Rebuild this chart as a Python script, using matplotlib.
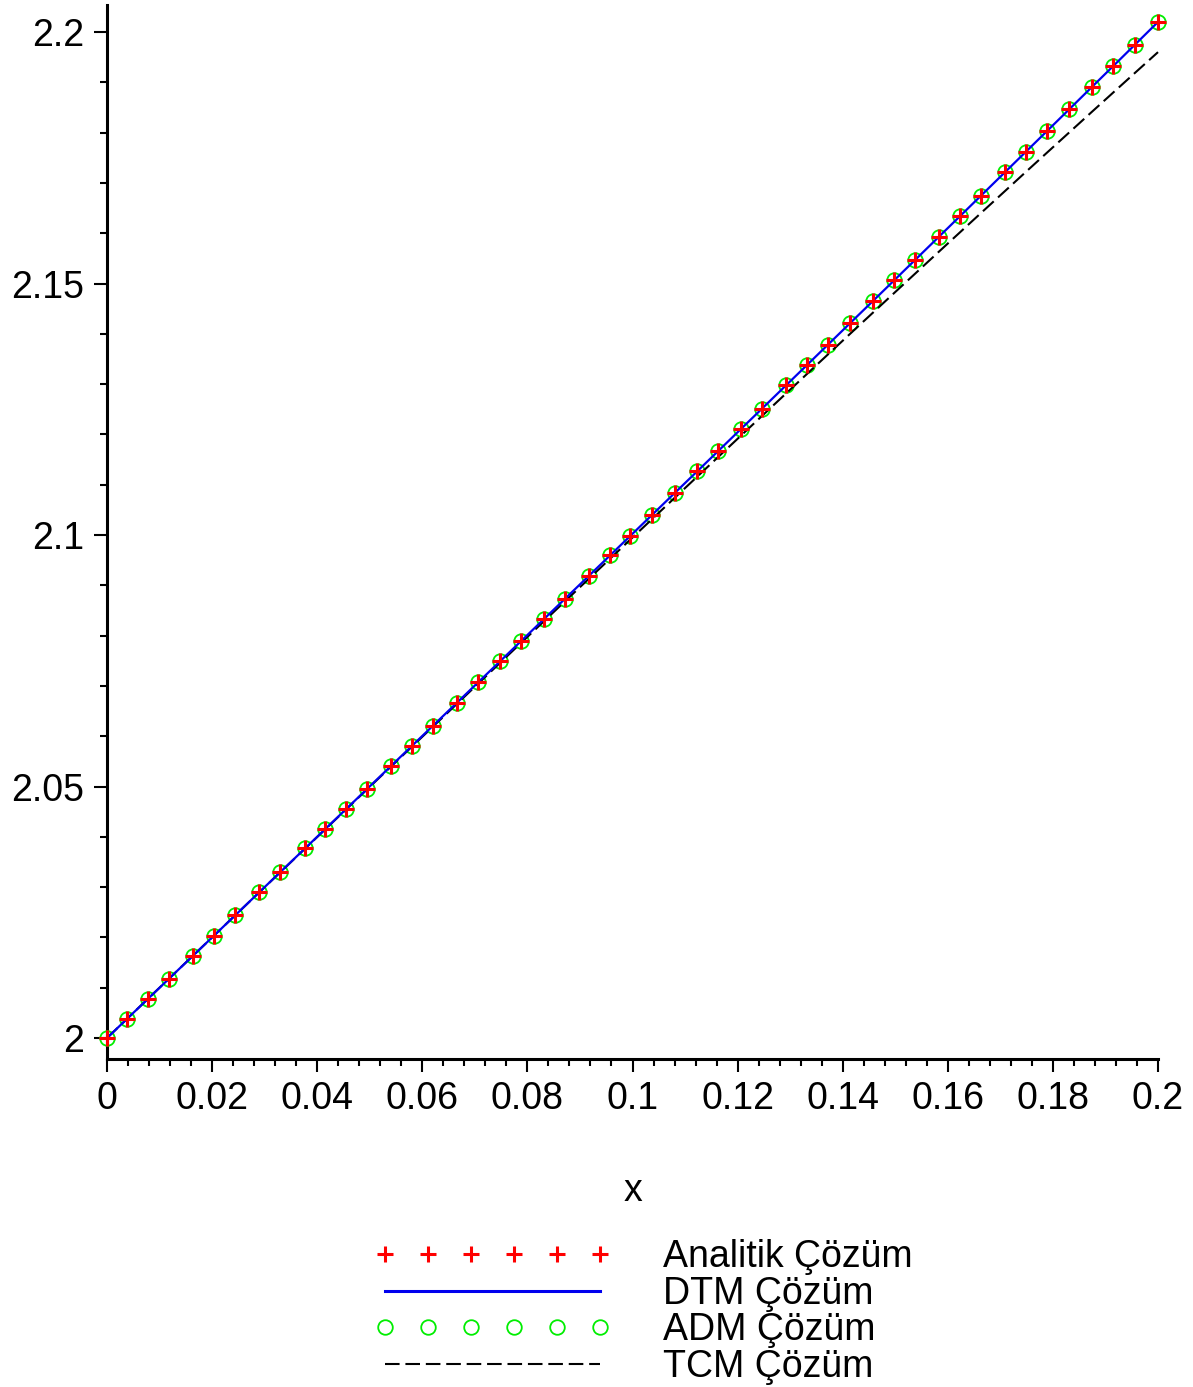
import matplotlib
matplotlib.use("Agg")
import matplotlib.pyplot as plt
from matplotlib.ticker import FixedLocator, MultipleLocator

# ---------------- data ----------------
x_vals = [0.0, 0.00381, 0.00780, 0.01180, 0.01637, 0.02036, 0.02436, 0.02893,
          0.03292, 0.03768, 0.04149, 0.04548, 0.04948, 0.05404, 0.05804, 0.06204,
          0.06660, 0.07060, 0.07479, 0.07878, 0.08316, 0.08716, 0.09172, 0.09572,
          0.09953, 0.10371, 0.10809, 0.11228, 0.11627, 0.12065, 0.12465, 0.12921,
          0.13321, 0.13720, 0.14139, 0.14577, 0.14976, 0.15376, 0.15833, 0.16232,
          0.16632, 0.17089, 0.17488, 0.17888, 0.18307, 0.18744, 0.19144, 0.19563,
          0.2]

y_analitik = [2.0, 2.00381, 2.00780, 2.01180, 2.01637, 2.02036, 2.02436, 2.02894,
              2.03293, 2.03769, 2.04151, 2.04550, 2.04951, 2.05408, 2.05809, 2.06210,
              2.06667, 2.07069, 2.07489, 2.07890, 2.08330, 2.08733, 2.09191, 2.09594,
              2.09978, 2.10399, 2.10841, 2.11263, 2.11666, 2.12109, 2.12513, 2.12975,
              2.13380, 2.13785, 2.14210, 2.14654, 2.15060, 2.15467, 2.15932, 2.16339,
              2.16747, 2.17214, 2.17622, 2.18031, 2.18460, 2.18909, 2.19319, 2.19750,
              2.2020]

y_dtm = [2.0, 2.00381, 2.00780, 2.01180, 2.01637, 2.02036, 2.02436, 2.02894,
         2.03293, 2.03769, 2.04151, 2.04550, 2.04951, 2.05408, 2.05809, 2.06210,
         2.06667, 2.07069, 2.07489, 2.07890, 2.08330, 2.08733, 2.09191, 2.09594,
         2.09978, 2.10399, 2.10841, 2.11263, 2.11666, 2.12109, 2.12513, 2.12975,
         2.13380, 2.13785, 2.14210, 2.14654, 2.15060, 2.15467, 2.15932, 2.16339,
         2.16747, 2.17214, 2.17622, 2.18031, 2.18460, 2.18909, 2.19319, 2.19750,
         2.2020]

y_adm = [2.0, 2.00381, 2.00780, 2.01180, 2.01637, 2.02036, 2.02436, 2.02894,
         2.03293, 2.03769, 2.04151, 2.04550, 2.04951, 2.05408, 2.05809, 2.06210,
         2.06667, 2.07069, 2.07489, 2.07890, 2.08330, 2.08733, 2.09191, 2.09594,
         2.09978, 2.10399, 2.10841, 2.11263, 2.11666, 2.12109, 2.12513, 2.12975,
         2.13380, 2.13785, 2.14210, 2.14654, 2.15060, 2.15467, 2.15932, 2.16339,
         2.16747, 2.17214, 2.17622, 2.18031, 2.18460, 2.18909, 2.19319, 2.19750,
         2.2020]

y_tcm = [2.0, 2.00381, 2.00780, 2.01180, 2.01637, 2.02036, 2.02436, 2.02892,
         2.03290, 2.03765, 2.04145, 2.04543, 2.04942, 2.05396, 2.05794, 2.06192,
         2.06645, 2.07042, 2.07458, 2.07854, 2.08287, 2.08683, 2.09133, 2.09528,
         2.09904, 2.10315, 2.10746, 2.11157, 2.11548, 2.11977, 2.12368, 2.12813,
         2.13203, 2.13591, 2.13998, 2.14422, 2.14808, 2.15194, 2.15635, 2.16018,
         2.16402, 2.16839, 2.17221, 2.17602, 2.18000, 2.18415, 2.18793, 2.19189,
         2.1960]

series_labels = ["Analitik Çözüm", "DTM Çözüm", "ADM Çözüm", "TCM Çözüm"]
x_ticks = [0.0, 0.02, 0.04, 0.06, 0.08, 0.1, 0.12, 0.14, 0.16, 0.18, 0.2]
x_tick_labels = ["0", "0.02", "0.04", "0.06", "0.08", "0.1", "0.12", "0.14",
                 "0.16", "0.18", "0.2"]
y_ticks = [2.0, 2.05, 2.1, 2.15, 2.2]
y_tick_labels = ["2", "2.05", "2.1", "2.15", "2.2"]
x_label = "x"

# ---------------- figure ----------------
plt.rcParams['font.family'] = ['Liberation Sans', 'DejaVu Sans']
FS = 27

W, H = 1193, 1387
fig = plt.figure(figsize=(W / 100, H / 100), dpi=100)
ax = fig.add_axes([107 / W, 1 - 1059 / H, 1051 / W, 1054 / H])

ax.set_xlim(0.0, 0.2)
ax.set_ylim(1.99583, 2.20537)

l_adm, = ax.plot(x_vals, y_adm, linestyle='none', marker='o', markersize=10.5,
                 markerfacecolor='none', markeredgecolor='#00ee00',
                 markeredgewidth=1.3, zorder=3, clip_on=False)
l_tcm, = ax.plot(x_vals, y_tcm, color='black', linewidth=1.5,
                 dashes=(7, 2.8), zorder=3, clip_on=False)
l_dtm, = ax.plot(x_vals, y_dtm, color='#0000ee', linewidth=1.6, zorder=4,
                 clip_on=False)
l_an, = ax.plot(x_vals, y_analitik, linestyle='none', marker='+', markersize=11.5,
                markeredgecolor='#ff0000', markeredgewidth=2.2, zorder=5,
                clip_on=False)

for side in ('top', 'right'):
    ax.spines[side].set_visible(False)
for side in ('left', 'bottom'):
    ax.spines[side].set_linewidth(2.2)
    ax.spines[side].set_color('black')

ax.xaxis.set_major_locator(FixedLocator(x_ticks))
ax.set_xticklabels(x_tick_labels)
ax.xaxis.set_minor_locator(MultipleLocator(0.004))
ax.yaxis.set_major_locator(FixedLocator(y_ticks))
ax.set_yticklabels(y_tick_labels)
ax.yaxis.set_minor_locator(MultipleLocator(0.01))

ax.tick_params(axis='both', which='major', length=9.5, width=1.5, labelsize=FS,
               direction='out', color='black')
ax.tick_params(axis='both', which='minor', length=5, width=1.5, direction='out')
ax.tick_params(axis='x', which='major', pad=6)
ax.tick_params(axis='y', which='major', pad=7)

ax.set_xlabel(x_label, fontsize=FS, va='center')
ax.xaxis.set_label_coords(0.5, (1059 - 1191) / 1054)

leg = fig.legend([l_an, l_dtm, l_adm, l_tcm], series_labels,
                 loc='upper left', bbox_to_anchor=(374 / W, 1 - 1239 / H),
                 frameon=False, fontsize=FS, numpoints=6,
                 handlelength=6.32, handletextpad=1.39, labelspacing=0.02,
                 borderpad=0, borderaxespad=0)
for h in leg.legend_handles:
    if h.get_linestyle() == '-':
        h.set_linewidth(2.2)

fig.savefig("out.png", dpi=100, facecolor='white')
